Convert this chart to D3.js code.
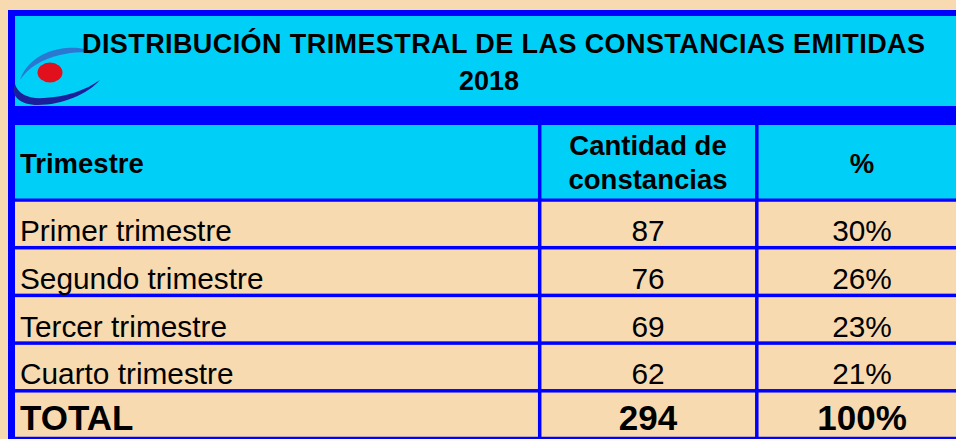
<!DOCTYPE html>
<html>
<head>
<meta charset="utf-8">
<script src="https://cdn.jsdelivr.net/npm/d3@7"></script>
<style>
	html, body { margin: 0; padding: 0; background: #f7dab0; }
	svg { display: block; }
	text { font-family: 'Liberation Sans', Arial, sans-serif; fill: #000; }
</style>
</head>
<body>
<svg id="tabla" width="956" height="439"></svg>
<script>
// datos de la tabla
const titulo = ['DISTRIBUCIÓN TRIMESTRAL DE LAS CONSTANCIAS EMITIDAS', '2018'];
const encabezados = ['Trimestre', 'Cantidad de\nconstancias', '%'];
const trimestres = ['Primer trimestre', 'Segundo trimestre', 'Tercer trimestre', 'Cuarto trimestre'];
const cantidades = [87, 76, 69, 62];
const porcentajes = ['30%', '26%', '23%', '21%'];
const totalLabel = 'TOTAL';
const totalCantidad = 294;
const totalPorcentaje = '100%';

const //
	width = 956,
	height = 439,
	beige = '#f7dab0',
	cyan = '#00d0f8',
	azul = '#0000ff',
	line = 3.5;

const svg = d3.select('#tabla');

//filas: 4 trimestres + total
const filas = trimestres.concat([totalLabel]);
const y = d3.scaleBand().domain(filas).range([200, 438.5]);

//columnas
const colEdges = [15, 539.7, 756.8, 975];
const x = d3.scaleOrdinal().domain([0, 1, 2]).range([0, 1, 2].map(i => colEdges[i]));
const colText = [20, 648, 862];

//fondo azul del marco
svg.append('rect')
	.attr('x', 8).attr('y', 10)
	.attr('width', width).attr('height', height)
	.attr('fill', azul);

//zona del titulo
svg.append('rect')
	.attr('x', 15).attr('y', 16)
	.attr('width', width).attr('height', 90)
	.attr('fill', cyan);

//logo
const logo = svg.append('g');
logo.append('path')
	.attr('d', 'M 20 80 C 26 62 44 50 66 48 C 80 47 90 49 92 54 C 84 51 72 52 60 55 C 42 59 28 68 20 80 Z')
	.attr('fill', '#2a78d2');
logo.append('path')
	.attr('d', 'M 15 84 C 10 96 20 105 38 105 C 62 105 88 94 100 80 C 86 90 66 97 44 98 C 28 99 18 94 15 84 Z')
	.attr('fill', '#1c1f9c');
logo.append('ellipse')
	.attr('cx', 50).attr('cy', 72.5)
	.attr('rx', 12.5).attr('ry', 10)
	.attr('fill', '#e2101c');

svg.append('text')
	.attr('x', 82).attr('y', 53)
	.attr('textLength', 843).attr('lengthAdjust', 'spacing')
	.style('font-size', '27px').style('font-weight', 'bold')
	.text(titulo[0]);
svg.append('text')
	.attr('x', 489).attr('y', 90)
	.attr('text-anchor', 'middle')
	.style('font-size', '27px').style('font-weight', 'bold')
	.text(titulo[1]);

//encabezados
encabezados.forEach((h, i) => {
	const x0 = i === 0 ? x(i) : x(i) + line / 2;
	const x1 = i === 2 ? width + 10 : x(i + 1) - line / 2;
	svg.append('rect')
		.attr('x', x0).attr('y', 125)
		.attr('width', x1 - x0).attr('height', 198.5 - 125)
		.attr('fill', cyan);

	const lines = h.split('\n');
	const t = svg.append('text')
		.attr('x', colText[i])
		.attr('text-anchor', i === 0 ? 'start' : 'middle')
		.style('font-size', '27.5px').style('font-weight', 'bold');
	if (lines.length === 1) {
		t.attr('y', 173).text(h);
	} else {
		t.attr('y', 155);
		lines.forEach((l, j) => {
			t.append('tspan').attr('x', colText[i]).attr('y', 155 + j * 34).text(l);
		});
	}
});

//celdas del cuerpo
const step = y.step();
const celdas = [];
filas.forEach((f, r) => {
	const esTotal = f === totalLabel;
	const valores = esTotal
		? [totalLabel, totalCantidad, totalPorcentaje]
		: [trimestres[r], cantidades[r], porcentajes[r]];
	valores.forEach((v, c) => celdas.push({fila: f, col: c, valor: v, total: esTotal}));
});

const g = svg.append('g');
g.selectAll('rect')
	.data(celdas)
	.enter()
	.append('rect')
	.attr('x', d => (d.col === 0 ? x(d.col) : x(d.col) + line / 2))
	.attr('y', d => y(d.fila) + line / 2)
	.attr('width', d => {
		const x0 = d.col === 0 ? x(d.col) : x(d.col) + line / 2;
		const x1 = d.col === 2 ? width + 10 : x(d.col + 1) - line / 2;
		return x1 - x0;
	})
	.attr('height', step - line)
	.attr('fill', beige);

g.selectAll('text')
	.data(celdas)
	.enter()
	.append('text')
	.attr('x', d => colText[d.col])
	.attr('y', d => y(d.fila) + step - (d.total ? 9 : 6.5))
	.attr('text-anchor', d => (d.col === 0 ? 'start' : 'middle'))
	.style('font-size', d => (d.total ? '35px' : '29.8px'))
	.style('font-weight', d => (d.total ? 'bold' : 'normal'))
	.text(d => d.valor);
</script>
</body>
</html>
